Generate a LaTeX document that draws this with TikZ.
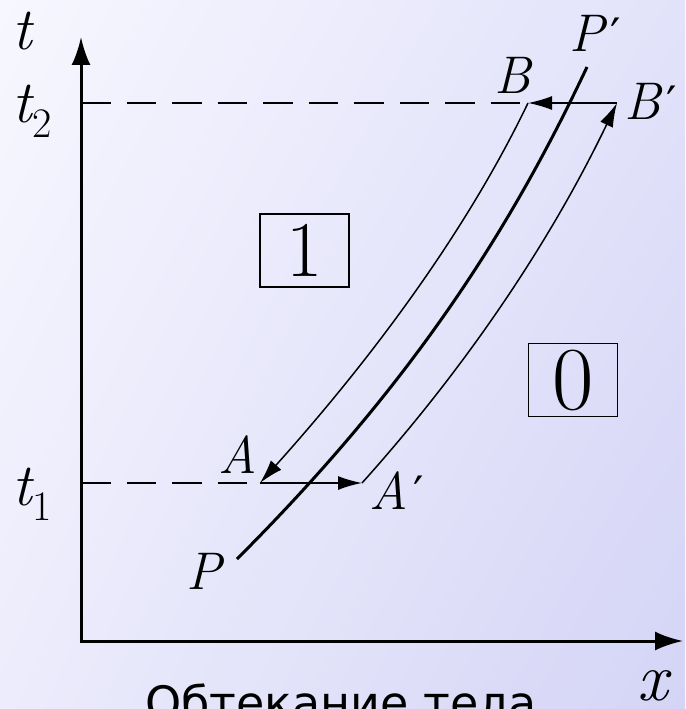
\documentclass[tikz,border=0pt]{standalone}
\usepackage{fontspec}
\newfontfamily\capfont{DejaVu Sans}
\usetikzlibrary{arrows.meta,shadings}
\definecolor{bgTL}{RGB}{247,247,255}
\definecolor{bgTR}{RGB}{226,226,250}
\definecolor{bgBL}{RGB}{236,236,252}
\definecolor{bgBR}{RGB}{212,212,246}
\newcommand{\subnum}[1]{\kern1pt\raisebox{-15pt}{\fontsize{42}{44}\selectfont\upshape #1}}
\newcommand{\prm}{\kern6pt{\capfont\upshape\fontsize{46}{50}\selectfont ′}}
\begin{document}
\begin{tikzpicture}[x=1pt,y=-1pt,
  lbl/.style={inner sep=0pt, anchor=base west, font=\rmfamily\fontsize{53}{60}\selectfont\itshape},
  tlbl/.style={inner sep=0pt, anchor=base west, font=\rmfamily\fontsize{60}{66}\selectfont\itshape},
  thinarrow/.style={line width=1.5pt, -{Latex[length=24pt,width=14pt]}},
  axisline/.style={line width=3pt, line join=miter, {Latex[length=28pt,width=19pt]}-{Latex[length=28pt,width=19pt]}},
  dashline/.style={line width=1.5pt, dash pattern=on 29.5pt off 16pt},
  thickcurve/.style={line width=3pt},
  regionbox/.style={draw, line width=1.5pt, minimum width=89pt, minimum height=73pt, inner sep=0pt}]
\clip (0,0) rectangle (685,709);
\useasboundingbox (0,0) rectangle (685,709);
\shade[upper left=bgTL, upper right=bgTR, lower left=bgBL, lower right=bgBR] (0,0) rectangle (685,709);
% key points
\coordinate (O) at (81,641);
\coordinate (Ytop) at (81,37);
\coordinate (Xend) at (683,641);
\coordinate (A) at (260,483);
\coordinate (Ap) at (362,483);
\coordinate (B) at (528,103);
\coordinate (Bp) at (617,103);
\coordinate (P0) at (237,559);
\coordinate (P1) at (587,67);
% axes
\draw[axisline] (Ytop) -- (O) -- (Xend);
% dashed levels
\draw[dashline] (O |- B) -- (B);
\draw[dashline] (O |- A) -- (A);
% curve P P'
\draw[thickcurve] (P0) .. controls (407,389) and (507,237) .. (P1);
% arrows
\draw[thinarrow] (A) -- (Ap);
\draw[thinarrow] (Bp) -- (B);
\draw[thinarrow] (B) .. controls (467,230) and (374,356) .. (A);
\draw[thinarrow] (Ap) .. controls (476,356) and (556,230) .. (Bp);
% boxes
\node[regionbox, font=\rmfamily\fontsize{79}{84}\selectfont] (box1) at (304.5,250.5) {1};
\node[regionbox, font=\rmfamily\fontsize{90}{94}\selectfont] (box0) at (573,380) {0};
% labels
\node[tlbl] (lt) at (12,49) {t};
\node[tlbl] (lt2) at (12,122) {t\subnum{2}};
\node[tlbl] (lt1) at (12,505) {t\subnum{1}};
\node[lbl] (lA) at (218,473) {A};
\node[lbl] (lAp) at (369,509) {A\prm};
\node[lbl] (lP) at (186,589) {P};
\node[lbl] (lB) at (494,93) {B};
\node[lbl] (lBp) at (624,119) {B\prm};
\node[lbl] (lPp) at (569,52) {P\prm};
\node[inner sep=0pt, anchor=base west, font=\rmfamily\fontsize{68}{72}\selectfont\itshape] (lx) at (637,700) {x};
\node[inner sep=0pt, anchor=base west, font=\capfont\fontsize{46}{50}\selectfont] (cap) at (145,719) {Обтекание тела};
\end{tikzpicture}
\end{document}
